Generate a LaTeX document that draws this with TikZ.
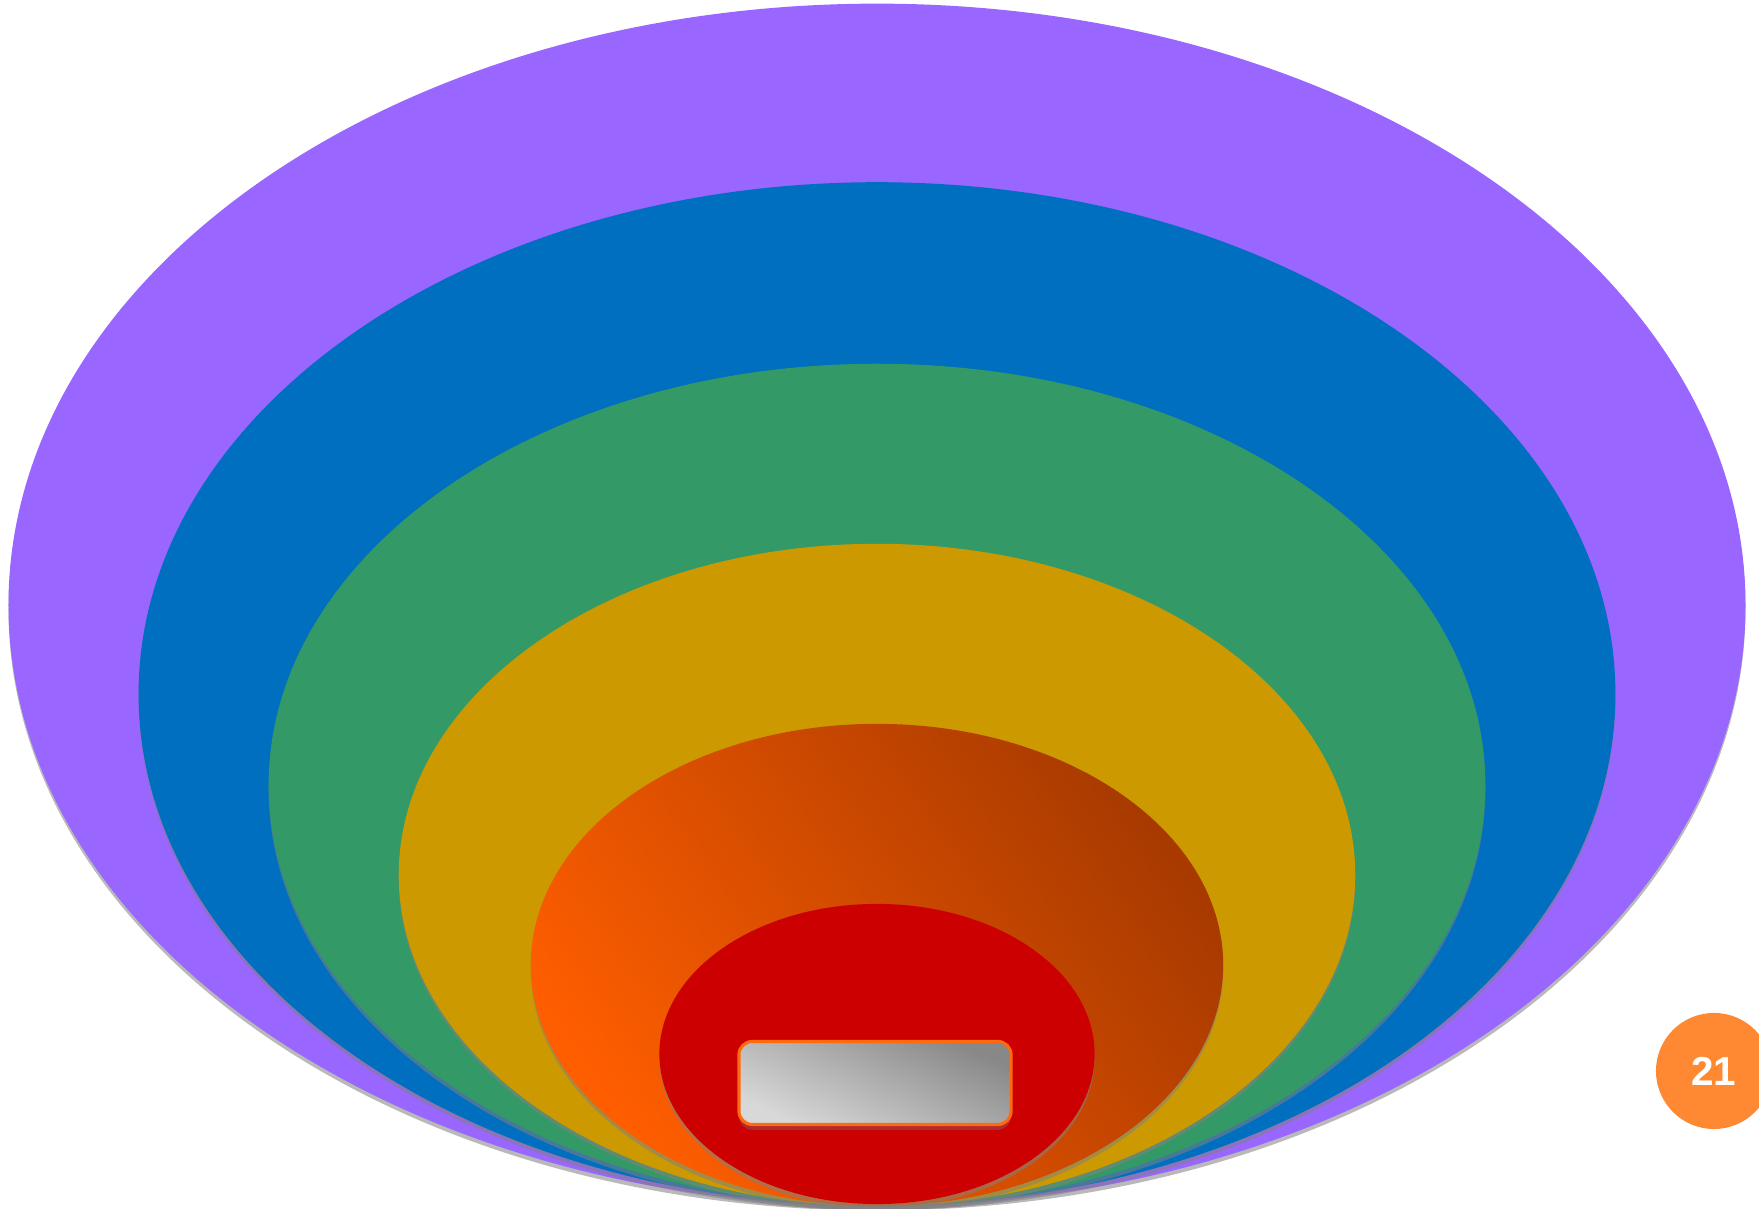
\documentclass[tikz,border=0pt]{standalone}
\usepackage{fontspec}
\setmainfont{Liberation Sans}
\usetikzlibrary{shapes.geometric, shadows, positioning}

\definecolor{ringviolet}{HTML}{9966FF}
\definecolor{ringblue}{HTML}{006FBF}
\definecolor{ringgreen}{HTML}{339966}
\definecolor{ringgold}{HTML}{CC9900}
\definecolor{ringred}{HTML}{CC0000}
\definecolor{glowlight}{HTML}{FF5E00}
\definecolor{glowmid}{HTML}{D44800}
\definecolor{glowdark}{HTML}{A83A00}
\definecolor{badgeorange}{HTML}{FF8833}
\definecolor{boxedge}{HTML}{FF6A10}
\definecolor{boxlight}{HTML}{D8D8D8}
\definecolor{boxdark}{HTML}{888888}

\begin{document}
\begin{tikzpicture}[
  x=0.01cm, y=0.01cm,
  ring/.style={ellipse, inner sep=0pt, draw=none,
    drop shadow={shadow xshift=0pt, shadow yshift=-1.2pt, opacity=0.55}},
  labelbox/.style={rectangle, rounded corners=3.8pt, inner sep=0pt,
    draw=boxedge, line width=0.9pt, left color=boxlight, right color=boxdark,
    shading angle=155, minimum width=2.72cm, minimum height=0.83cm,
    drop shadow={shadow xshift=0pt, shadow yshift=-1.5pt, opacity=0.35}},
  badge/.style={circle, fill=badgeorange, inner sep=0pt, minimum size=1.16cm,
    text=white, font=\fontsize{11.5}{13}\selectfont\bfseries}
]
  \useasboundingbox (0,0) rectangle (1759,1209);

  % nested rings, all touching at the bottom
  \node[ring, fill=ringviolet, minimum width=17.36cm, minimum height=12.02cm] (violet) at (877,604) {};
  \node[ring, fill=ringblue, minimum width=14.76cm, minimum height=10.23cm] (blue) at (877,515) {};
  \node[ring, fill=ringgreen, minimum width=12.16cm, minimum height=8.42cm] (green) at (877,424) {};
  \node[ring, fill=ringgold, minimum width=9.56cm, minimum height=6.62cm] (gold) at (877,334) {};
  \node[ring, left color=glowlight, middle color=glowmid, right color=glowdark, shading angle=125,
    minimum width=6.92cm, minimum height=4.82cm] (glow) at (877,244) {};
  \node[ring, fill=ringred, minimum width=4.35cm, minimum height=3.00cm] (core) at (877,155) {};

  % empty label box in the core
  \node[labelbox] (corebox) at (875,126) {};

  % page number
  \node[badge] (pagenum) at (1714,138) {21};
\end{tikzpicture}
\end{document}
